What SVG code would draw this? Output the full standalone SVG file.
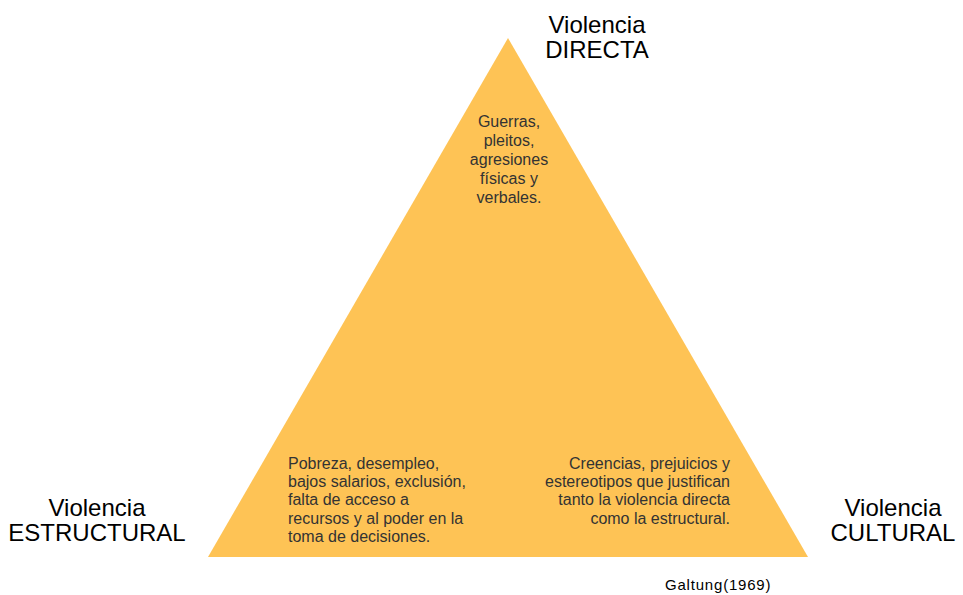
<svg xmlns="http://www.w3.org/2000/svg" width="963" height="595" viewBox="0 0 963 595">
<style>
.lbl{font-family:"Liberation Sans",Arial,sans-serif;font-size:24px;fill:#000;text-anchor:middle}
.body{font-family:"Liberation Sans",Arial,sans-serif;font-size:16px;fill:#333}
.mid{text-anchor:middle}
.end{text-anchor:end}
</style>
<rect width="963" height="595" fill="#fff"/>
<g id="triangle">
<polygon points="508,38 208,557 808,557" fill="#FEC355"/>
</g>
<g id="directa">
<text class="lbl" x="597"><tspan x="597" y="33">Violencia</tspan><tspan x="597" y="58">DIRECTA</tspan></text>
<text class="body mid" x="509" y="127">Guerras,</text>
<text class="body mid" x="509" y="146">pleitos,</text>
<text class="body mid" x="509" y="165">agresiones</text>
<text class="body mid" x="509" y="184">físicas y</text>
<text class="body mid" x="509" y="203">verbales.</text>
</g>
<g id="estructural">
<text class="lbl" x="97"><tspan x="97" y="516">Violencia</tspan><tspan x="97" y="541">ESTRUCTURAL</tspan></text>
<text class="body" x="288" y="469">Pobreza, desempleo,</text>
<text class="body" x="288" y="487">bajos salarios, exclusión,</text>
<text class="body" x="288" y="505">falta de acceso a</text>
<text class="body" x="288" y="524">recursos y al poder en la</text>
<text class="body" x="288" y="542">toma de decisiones.</text>
</g>
<g id="cultural">
<text class="lbl" x="893"><tspan x="893" y="516">Violencia</tspan><tspan x="893" y="541">CULTURAL</tspan></text>
<text class="body end" x="730" y="469">Creencias, prejuicios y</text>
<text class="body end" x="730" y="487">estereotipos que justifican</text>
<text class="body end" x="730" y="505">tanto la violencia directa</text>
<text class="body end" x="730" y="524">como la estructural.</text>
</g>
<g id="connectors"></g>
<g id="source">
<text x="665" y="590" style="font-family:'Liberation Sans',Arial,sans-serif;fill:#000;font-size:15px;letter-spacing:0.8px">Galtung(1969)</text>
</g>
</svg>
